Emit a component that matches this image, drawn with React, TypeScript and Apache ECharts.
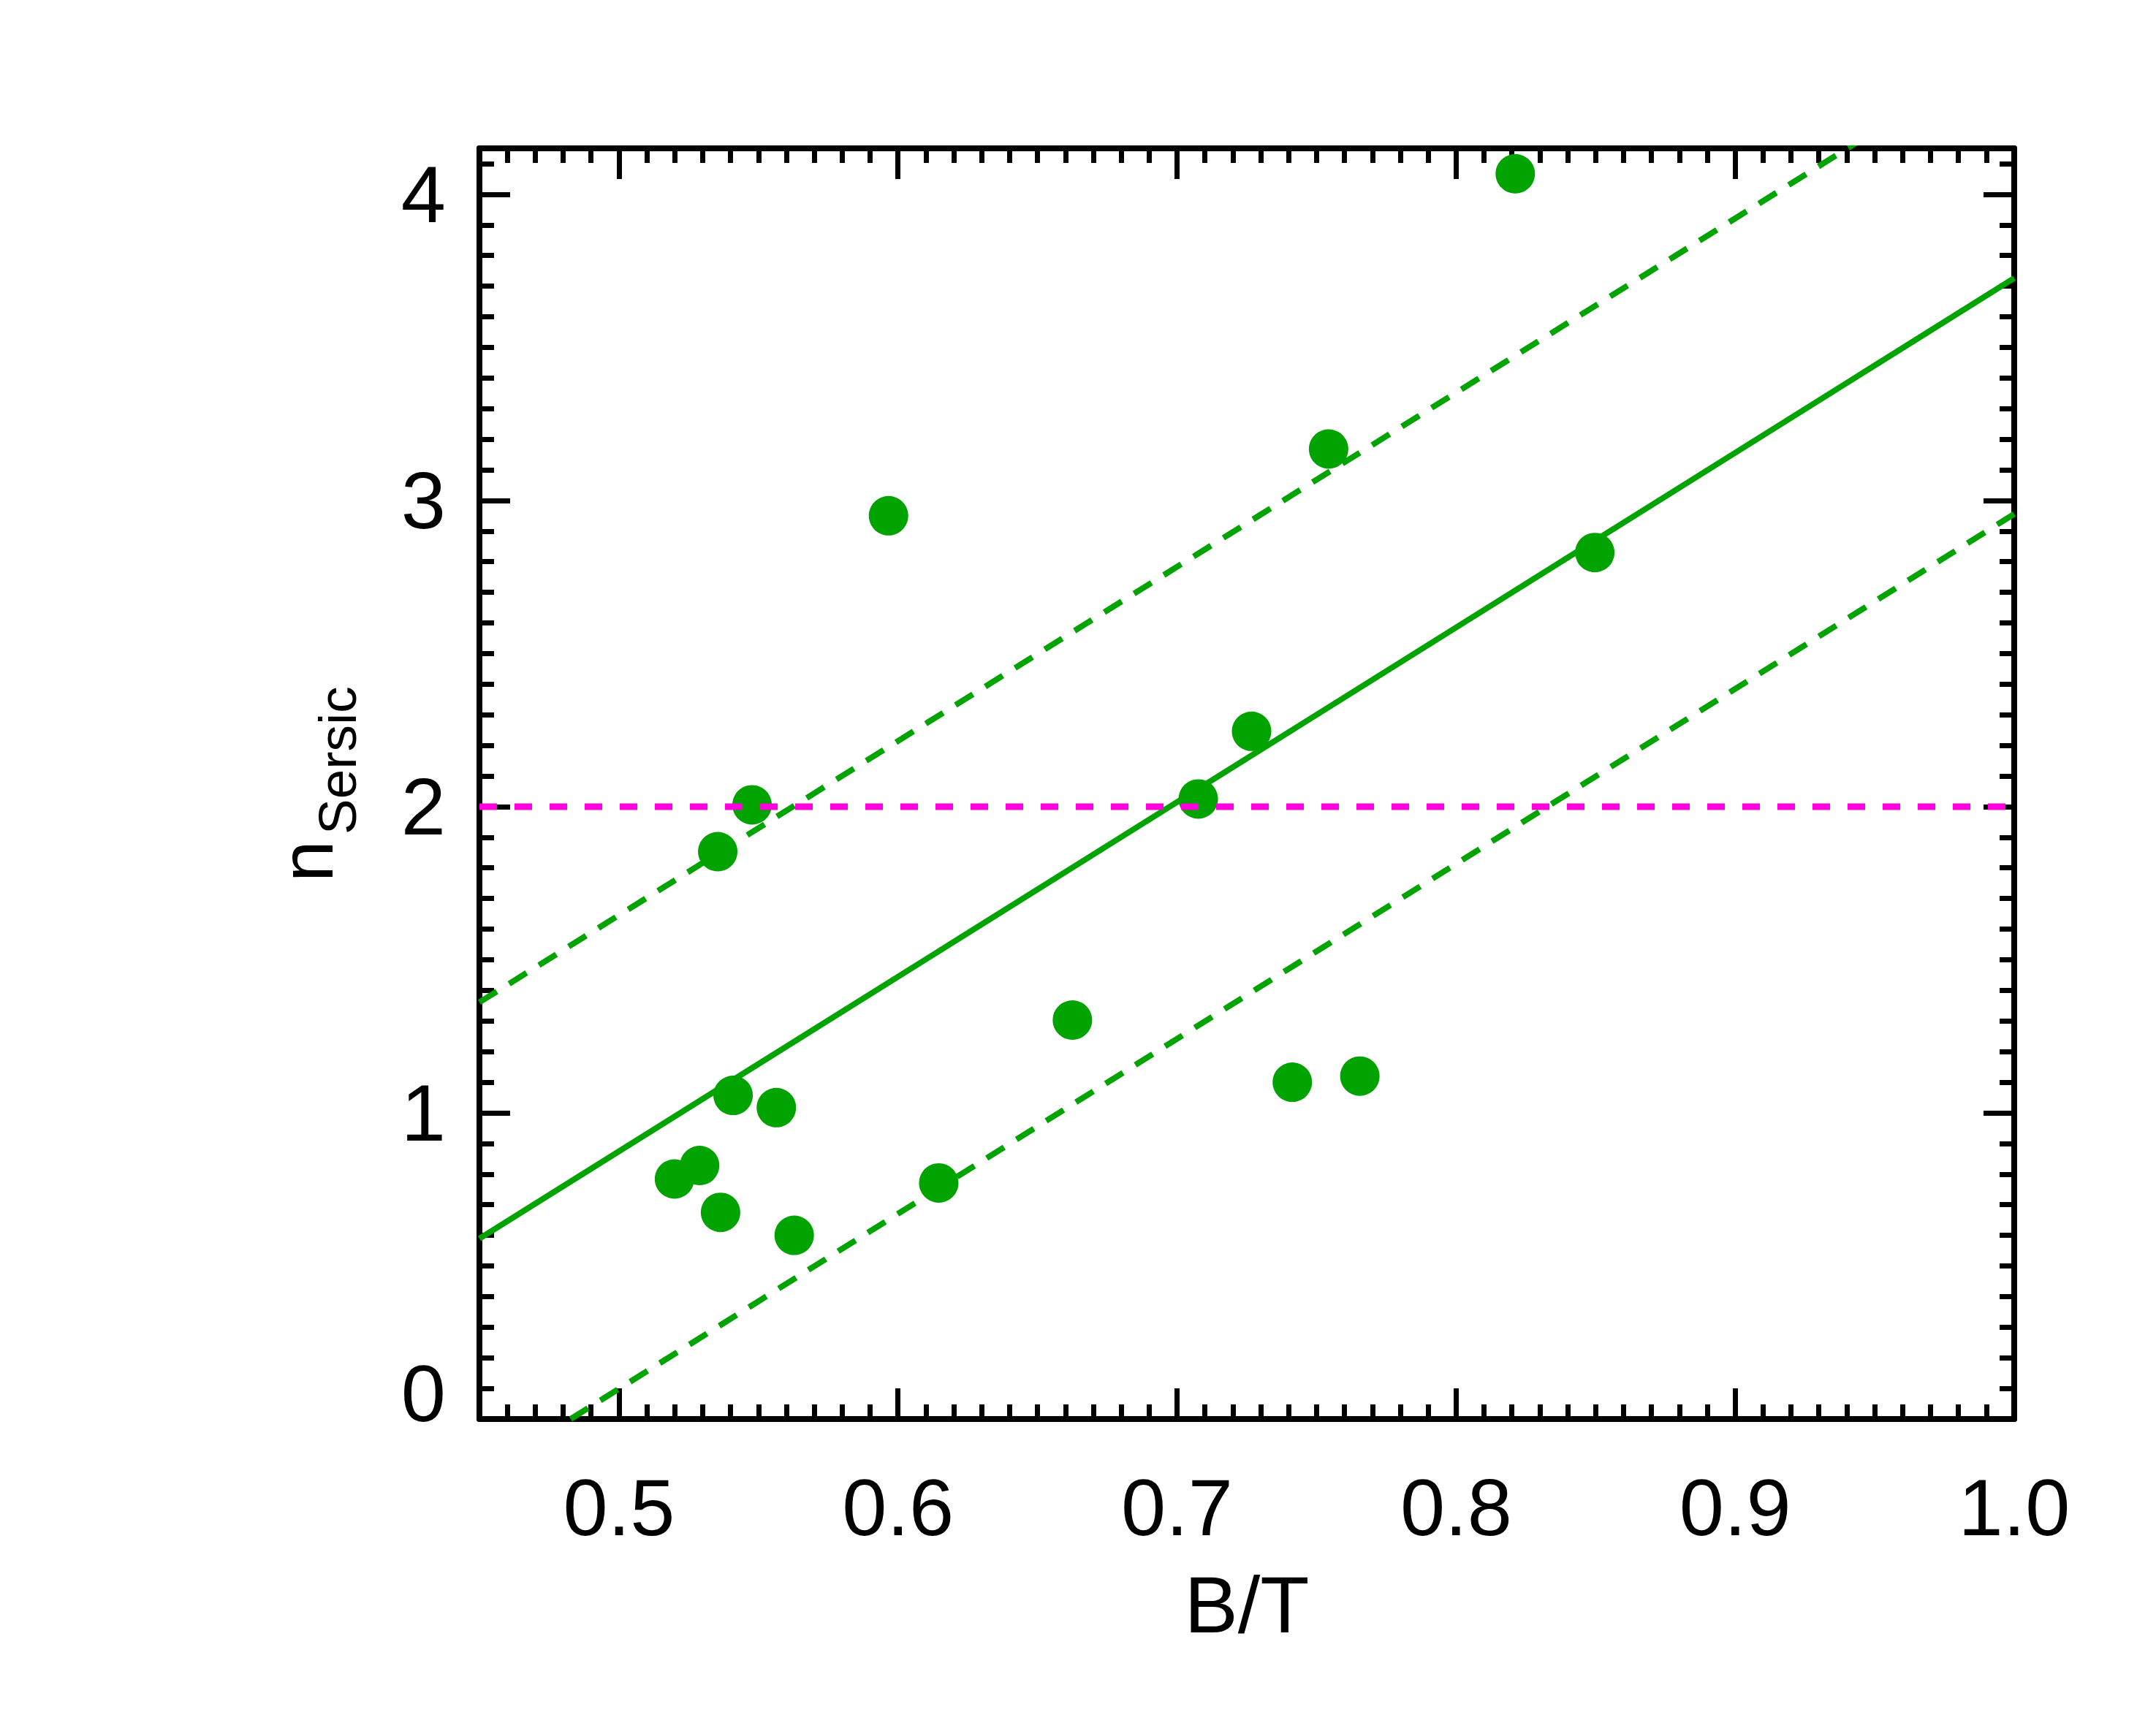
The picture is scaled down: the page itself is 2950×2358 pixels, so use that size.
import React, { useEffect, useRef } from "react";
import * as echarts from "echarts";

// Scatter data: B/T vs n_Sersic
const btValues = [0.8212, 0.7543, 0.5966, 0.8497, 0.7267, 0.5477, 0.7076, 0.5354, 0.6625, 0.7413, 0.7655, 0.5409, 0.5564, 0.5289, 0.5199, 0.5364, 0.5628, 0.6146];
const nValues = [4.067, 3.168, 2.95, 2.83, 2.246, 2.006, 2.025, 1.853, 1.303, 1.1, 1.12, 1.057, 1.017, 0.828, 0.784, 0.675, 0.6, 0.771];

// Fit line and its dashed bounds (endpoints)
const fitX = [0.45, 1.0];
const fitY = [0.589, 3.726];
const upperX = [0.45, 1.0];
const upperY = [1.361, 4.49];
const lowerX = [0.4827, 1.0];
const lowerY = [0.0, 2.956];
// Horizontal threshold
const thresholdX = [0.45, 1.0];
const thresholdY = [2, 2];

const xMin = 0.45;
const xMax = 1.0;
const yMin = 0;
const yMax = 4.15;

const GREEN = "#00a300";
const MAGENTA = "#ff00dd";
const FONT = "Liberation Sans";

const pairs = (xs: number[], ys: number[]) => xs.map((x, i) => [x, ys[i]]);

export default function App() {
  const ref = useRef<HTMLDivElement>(null);
  useEffect(() => {
    if (!ref.current) return;
    const chart = echarts.init(ref.current, null, { renderer: "svg" });
    const axisLine = { show: true, onZero: false, lineStyle: { color: "#000", width: 8 } };
    const tick = { show: true, inside: true, length: 42, lineStyle: { color: "#000", width: 7 } };
    const minor = { show: true, splitNumber: 10, length: 20, lineStyle: { color: "#000", width: 7 } };
    const option: any = {
      animation: false,
      backgroundColor: "#fff",
      grid: { left: 656, top: 203, width: 2100, height: 1739, containLabel: false },
      xAxis: [
        {
          type: "value",
          position: "bottom",
          min: xMin,
          max: xMax,
          splitNumber: 5,
          minInterval: 0.1,
          maxInterval: 0.1,
          axisLine,
          axisTick: tick,
          minorTick: minor,
          splitLine: { show: false },
          axisLabel: {
            show: true,
            margin: 65,
            color: "#000",
            fontFamily: FONT,
            fontSize: 110,
            showMinLabel: true,
            showMaxLabel: true,
            formatter: (v: number) => {
              const r = Math.round(v * 10) / 10;
              return Math.abs(v - r) < 1e-6 ? r.toFixed(1) : "";
            },
          },
          name: "B/T",
          nameLocation: "middle",
          nameGap: 198,
          nameTextStyle: { color: "#000", fontFamily: FONT, fontSize: 110 },
        },
        {
          type: "value",
          position: "top",
          min: xMin,
          max: xMax,
          splitNumber: 5,
          minInterval: 0.1,
          maxInterval: 0.1,
          axisLine,
          axisTick: tick,
          minorTick: minor,
          splitLine: { show: false },
          axisLabel: { show: false },
        },
      ],
      yAxis: [
        {
          type: "value",
          position: "left",
          min: yMin,
          max: yMax,
          interval: 1,
          axisLine,
          axisTick: tick,
          minorTick: minor,
          splitLine: { show: false },
          axisLabel: {
            show: true,
            margin: 46,
            color: "#000",
            fontFamily: FONT,
            fontSize: 110,
            showMaxLabel: true,
            formatter: (v: number) => {
              if (Math.abs(v - Math.round(v)) > 1e-6) return "";
              if (Math.round(v) === 0) return "{z|0}";
              return String(Math.round(v));
            },
            rich: {
              z: { fontFamily: FONT, fontSize: 110, color: "#000", padding: [0, 0, 72, 0] },
            },
          },
        },
        {
          type: "value",
          position: "right",
          min: yMin,
          max: yMax,
          interval: 1,
          axisLine,
          axisTick: tick,
          minorTick: minor,
          splitLine: { show: false },
          axisLabel: { show: false },
        },
      ],
      graphic: [
        {
          type: "group",
          x: 456,
          y: 1207,
          rotation: Math.PI / 2,
          children: [
            {
              type: "text",
              x: 0,
              y: -36,
              style: { text: "n", fontFamily: FONT, fontSize: 102, fill: "#000", align: "left", verticalAlign: "middle" },
            },
            {
              type: "text",
              x: 65,
              y: 5,
              style: { text: "Sersic", fontFamily: FONT, fontSize: 73, fill: "#000", align: "left", verticalAlign: "middle" },
            },
          ],
        },
      ],
      series: [
        {
          type: "line",
          data: pairs(fitX, fitY),
          symbol: "none",
          clip: true,
          z: 2,
          lineStyle: { color: GREEN, width: 8 },
        },
        {
          type: "line",
          data: pairs(upperX, upperY),
          symbol: "none",
          clip: true,
          z: 2,
          lineStyle: { color: GREEN, width: 8, type: [28, 20] },
        },
        {
          type: "line",
          data: pairs(lowerX, lowerY),
          symbol: "none",
          clip: true,
          z: 2,
          lineStyle: { color: GREEN, width: 8, type: [28, 20] },
        },
        {
          type: "scatter",
          data: pairs(btValues, nValues),
          symbol: "circle",
          symbolSize: 54,
          z: 3,
          itemStyle: { color: GREEN, opacity: 1 },
        },
        {
          type: "line",
          data: pairs(thresholdX, thresholdY),
          symbol: "none",
          clip: true,
          z: 4,
          lineStyle: { color: MAGENTA, width: 9, type: [24, 24] },
        },
      ],
    };
    chart.setOption(option);
    return () => chart.dispose();
  }, []);
  return (
    <div
      ref={ref}
      style={{ position: "fixed", left: 0, top: 0, width: 2950, height: 2358, background: "#fff" }}
    />
  );
}
